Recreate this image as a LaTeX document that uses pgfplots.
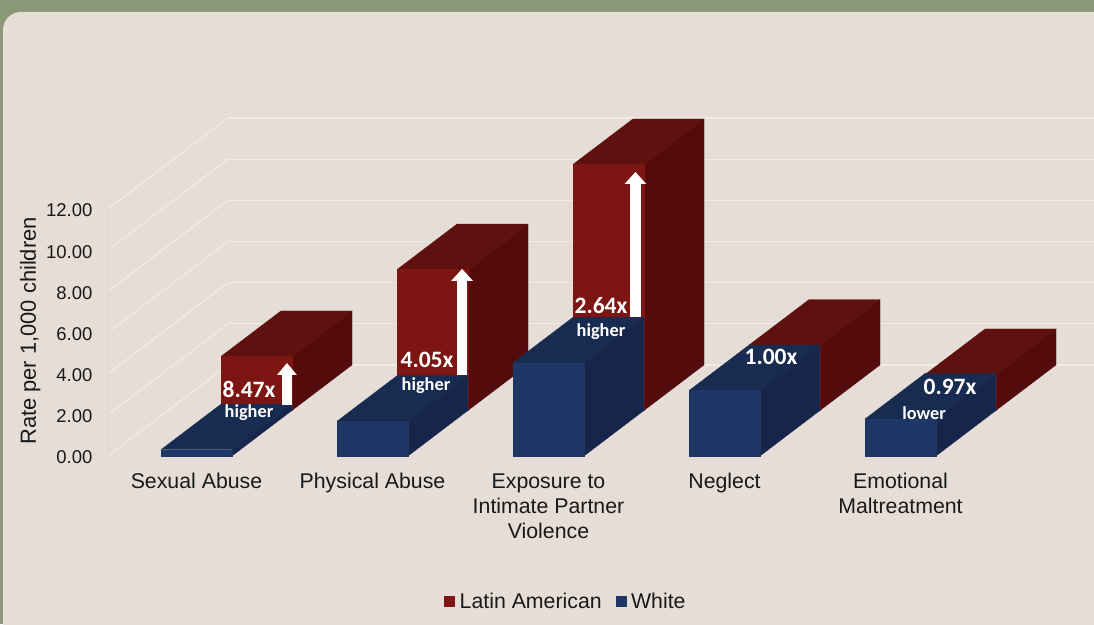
\documentclass[border=0pt]{standalone}
\usepackage{fontspec}
\usepackage{pgfplots}
\pgfplotsset{compat=1.18}
\usetikzlibrary{arrows.meta}
\setmainfont{Liberation Sans}
\newfontfamily\callout{Carlito}

\definecolor{frame}{HTML}{8A9878}
\definecolor{panel}{HTML}{E5DDD6}
\definecolor{gridc}{HTML}{EFEBE6}
\definecolor{wallc}{HTML}{D9D7CE}
\definecolor{redfront}{HTML}{7D1612}
\definecolor{redtop}{HTML}{5F110F}
\definecolor{redside}{HTML}{530C0B}
\definecolor{bluefront}{HTML}{1E3766}
\definecolor{bluetop}{HTML}{182B50}
\definecolor{blueside}{HTML}{15264A}

% One box of the 3D column chart: category, depth row, rate, and the three face colours
\newcommand{\cuboid}[6]{%
  \pgfmathsetmacro\xa{#1-0.2017}%
  \pgfmathsetmacro\xb{#1+0.2017}%
  \pgfmathsetmacro\yb{#2+1}%
  \edef\facecmds{%
    \noexpand\addplot3[fill=#6,draw=#6,line width=0.2pt,forget plot] coordinates {(\xb,#2,0) (\xb,\yb,0) (\xb,\yb,#3) (\xb,#2,#3)} --cycle;
    \noexpand\addplot3[fill=#5,draw=#5,line width=0.2pt,forget plot] coordinates {(\xa,#2,#3) (\xb,#2,#3) (\xb,\yb,#3) (\xa,\yb,#3)} --cycle;
    \noexpand\addplot3[fill=#4,draw=#4,line width=0.2pt,forget plot] coordinates {(\xa,#2,0) (\xb,#2,0) (\xb,#2,#3) (\xa,#2,#3)} --cycle;
  }%
  \facecmds
}
% Text placed from the top-left corner of the page
\newcommand{\callouttext}[4]{%
  \node[text=white,inner sep=0pt,font=\callout\bfseries\fontsize{#3}{#3}\selectfont]
    at ({#1*1pt},{(624-#2)*1pt}) {#4};}

\begin{document}
\begin{tikzpicture}
  \path[use as bounding box] (0pt,0pt) rectangle (1094pt,624pt);
  \fill[frame] (0pt,0pt) rectangle (1094pt,624pt);
  \fill[panel,rounded corners=18pt] (3pt,-40pt) rectangle (1160pt,612pt);

  \begin{axis}[
    at={(196.5pt,168pt)}, anchor=origin,
    x={(176pt,0pt)}, y={(60pt,45.5pt)}, z={(0pt,20.58pt)},
    xmin=-0.503, xmax=4.417, ymin=0, ymax=2, zmin=0, zmax=12,
    clip=false, no markers,
    axis line style={draw=none},
    xtick={0,1,2,3,4},
    xticklabels={Sexual Abuse,Physical Abuse,Exposure to\\Intimate Partner\\Violence,Neglect,Emotional\\Maltreatment},
    xticklabel style={anchor=north,align=center,font=\fontsize{21.3}{25}\selectfont,text=black!90,yshift=-14pt},
    ytick=\empty,
    ztick={0,2,...,12},
    zticklabel style={anchor=east,xshift=-12pt,yshift=-1.5pt,/pgf/number format/fixed,/pgf/number format/fixed zerofill,/pgf/number format/precision=2,/pgf/number format/assume math mode=true,font=\fontsize{18.5}{22}\selectfont,text=black!90},
    major tick style={draw=none},
    zmajorgrids=true, xmajorgrids=false,
    major grid style={gridc,line width=1.2pt},
    zlabel={Rate per 1,000 children},
    zlabel style={font=\fontsize{21.9}{25}\selectfont,text=black!90,xshift=27pt,yshift=2pt},
    legend style={at={(axis description cs:0.4645,-0.43)},anchor=center,draw=none,fill=none,
      legend columns=2,font=\fontsize{21.3}{25}\selectfont,text=black!90,
      /tikz/every even column/.append style={column sep=12pt}},
  ]
    % Front-left upright of the chart wall
    \addplot3[wallc,line width=0.8pt,forget plot] coordinates {(-0.503,0,0) (-0.503,0,12)};

    % Rates per 1,000 children, Latin American (back row) then White (front row)
    \cuboid{0}{1}{2.63}{redfront}{redtop}{redside}
    \cuboid{0}{0}{0.31}{bluefront}{bluetop}{blueside}
    \cuboid{1}{1}{6.85}{redfront}{redtop}{redside}
    \cuboid{1}{0}{1.69}{bluefront}{bluetop}{blueside}
    \cuboid{2}{1}{11.96}{redfront}{redtop}{redside}
    \cuboid{2}{0}{4.53}{bluefront}{bluetop}{blueside}
    \cuboid{3}{1}{3.18}{redfront}{redtop}{redside}
    \cuboid{3}{0}{3.18}{bluefront}{bluetop}{blueside}
    \cuboid{4}{1}{1.75}{redfront}{redtop}{redside}
    \cuboid{4}{0}{1.80}{bluefront}{bluetop}{blueside}

    % Arrows on the Latin American fronts
    \draw[white,line width=10.5pt,-{Triangle[width=19pt,length=12pt]}]
      (axis cs:0.173,1,0.27) -- (axis cs:0.173,1,2.31);
    \draw[white,line width=10.5pt,-{Triangle[width=21pt,length=12pt]}]
      (axis cs:1.168,1,1.725) -- (axis cs:1.168,1,6.88);
    \draw[white,line width=10.5pt,-{Triangle[width=21pt,length=12pt]}]
      (axis cs:2.153,1,4.54) -- (axis cs:2.153,1,11.59);

    \addlegendimage{legend image code/.code={\fill[redfront] (0pt,-5pt) rectangle (10pt,5pt); \path (13pt,0pt);}}
    \addlegendentry{Latin American}
    \addlegendimage{legend image code/.code={\fill[bluefront] (0pt,-5pt) rectangle (10pt,5pt); \path (13pt,0pt);}}
    \addlegendentry{White}
  \end{axis}

  \callouttext{249}{389}{23.5}{8.47x}
  \callouttext{249}{413}{18.3}{higher}
  \callouttext{427}{360}{23.5}{4.05x}
  \callouttext{426}{386}{18.3}{higher}
  \callouttext{601}{306}{23.5}{2.64x}
  \callouttext{601}{332}{18.3}{higher}
  \callouttext{771}{357}{23.5}{1.00x}
  \callouttext{950}{387}{23.5}{0.97x}
  \callouttext{924}{413}{18.3}{lower}
\end{tikzpicture}
\end{document}
